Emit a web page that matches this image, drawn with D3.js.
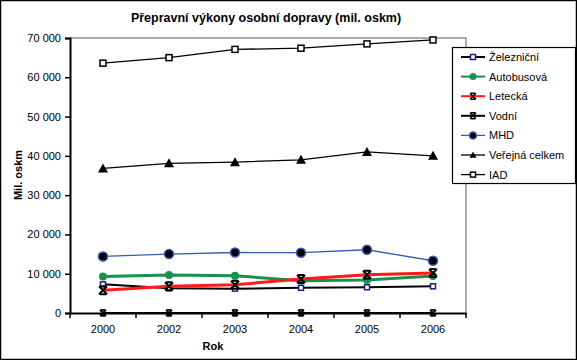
<!DOCTYPE html>
<html><head><meta charset="utf-8">
<script src="https://cdn.jsdelivr.net/npm/d3@7"></script>
<style>
body{margin:0;background:#fff;}
svg{display:block;font-family:"Liberation Sans",Arial,sans-serif;}
</style></head><body>
<svg id="c" width="577" height="360"></svg>
<script>
const years = ["2000","2002","2003","2004","2005","2006"];
const seriesNames = ["Železniční","Autobusová","Letecká","Vodní","MHD","Veřejná celkem","IAD"];
const zeleznicni = [7300,6300,6200,6400,6550,6800];
const autobusova = [9300,9650,9500,8200,8400,9400];
const letecka = [5800,6800,7200,8650,9750,10200];
const vodni = [30,20,20,20,20,20];
const mhd = [14400,15000,15400,15350,16100,13300];
const verejna = [36800,38100,38400,39000,41000,40000];
const iad = [63600,65000,67100,67400,68500,69500];
const yTicks = [0,10000,20000,30000,40000,50000,60000,70000];

const styles = [
  {color:"#000000", width:2, marker:"square", mstroke:"#1c1c8c", mfill:"#fff", msize:5},
  {color:"#16924a", width:3, marker:"circle", mstroke:"#16924a", mfill:"#16924a", msize:4},
  {color:"#ff1a1a", width:3, marker:"x", mstroke:"#000", msize:4},
  {color:"#000000", width:2, marker:"x", mstroke:"#000", msize:3},
  {color:"#3a5ab8", width:1.3, marker:"dotcircle", mstroke:"#3a5ab8", mfill:"#000", msize:4.5},
  {color:"#000000", width:1.3, marker:"triangle", mstroke:"#000", mfill:"#000", msize:5},
  {color:"#000000", width:1.3, marker:"square", mstroke:"#000", mfill:"#fff", msize:6}
];
const data = [zeleznicni,autobusova,letecka,vodni,mhd,verejna,iad];

const svg = d3.select("#c");
svg.append("rect").attr("x",0.5).attr("y",0.5).attr("width",576).attr("height",359)
  .attr("fill","#fff").attr("stroke","#000").attr("stroke-width",1.5);

const L=70,R=466,T=38,B=313;
const x = d3.scaleBand().domain(years).range([L,R]);
const y = d3.scaleLinear().domain([0,70000]).range([B,T]);

svg.append("path").attr("d",`M${L},${T}H${R}V${B+3}`).attr("fill","none")
  .attr("stroke","#909090").attr("stroke-width",1.5);

const fmt = v => d3.format(",")(v).replace(/,/g," ");
const ya = svg.append("g").attr("transform",`translate(${L},0)`)
  .call(d3.axisLeft(y).tickValues(yTicks).tickFormat(fmt).tickSize(5).tickPadding(4));
ya.select(".domain").attr("stroke","#000").attr("stroke-width",2);
ya.selectAll(".tick line").attr("stroke","#000").attr("stroke-width",1.5);
ya.selectAll("text").attr("font-size",11).attr("fill","#000").attr("font-family","Liberation Sans, Arial");

const xa = svg.append("g").attr("transform",`translate(0,${B})`)
  .call(d3.axisBottom(x).tickSize(0).tickPadding(12));
xa.select(".domain").attr("stroke","#000").attr("stroke-width",2);
xa.selectAll("text").attr("font-size",11).attr("fill","#000").attr("font-family","Liberation Sans, Arial");
const bounds = years.map(d=>x(d)).concat([x(years[years.length-1])+x.bandwidth()]);
svg.append("g").selectAll("line").data(bounds).join("line")
  .attr("x1",d=>d).attr("x2",d=>d).attr("y1",B).attr("y2",B+5)
  .attr("stroke","#000").attr("stroke-width",1.5);

function drawMarker(g, st, cx, cy){
  const s=st.msize;
  if(st.marker==="square"){
    g.append("rect").attr("x",cx-s/2).attr("y",cy-s/2).attr("width",s).attr("height",s)
      .attr("fill",st.mfill).attr("stroke",st.mstroke).attr("stroke-width",1.5);
  } else if(st.marker==="circle"){
    g.append("circle").attr("cx",cx).attr("cy",cy).attr("r",s).attr("fill",st.mfill);
  } else if(st.marker==="dotcircle"){
    g.append("circle").attr("cx",cx).attr("cy",cy).attr("r",s).attr("fill",st.mfill)
      .attr("stroke",st.mstroke).attr("stroke-width",1.5);
  } else if(st.marker==="triangle"){
    g.append("path").attr("d",`M${cx},${cy-s}L${cx+s},${cy+s*0.8}L${cx-s},${cy+s*0.8}Z`).attr("fill",st.mfill);
  } else if(st.marker==="x"){
    g.append("path").attr("d",`M${cx-s},${cy-s}L${cx+s},${cy+s}M${cx+s},${cy-s}L${cx-s},${cy+s}M${cx-s*0.8},${cy-s}H${cx+s*0.8}M${cx-s*0.8},${cy+s}H${cx+s*0.8}`)
      .attr("stroke",st.mstroke).attr("stroke-width",s>3?2:1.6).attr("fill","none");
  }
}

const line = d3.line().x((d,i)=>x(years[i])+x.bandwidth()/2).y(d=>y(d));
data.forEach((vals,k)=>{
  const st=styles[k];
  const g=svg.append("g");
  g.append("path").attr("d",line(vals)).attr("fill","none").attr("stroke",st.color).attr("stroke-width",st.width);
  vals.forEach((v,i)=>drawMarker(g,st,x(years[i])+x.bandwidth()/2,y(v)));
});

svg.append("text").attr("x",266).attr("y",22).attr("text-anchor","middle")
  .attr("font-size",12.5).attr("font-weight","bold").text("Přepravní výkony osobní dopravy (mil. oskm)");
svg.append("text").attr("transform","translate(22,175) rotate(-90)").attr("text-anchor","middle")
  .attr("font-size",11).attr("font-weight","bold").text("Mil. oskm");
svg.append("text").attr("x",213).attr("y",350).attr("text-anchor","middle")
  .attr("font-size",11).attr("font-weight","bold").text("Rok");

const lg = svg.append("g");
lg.append("rect").attr("x",452.5).attr("y",47.5).attr("width",123).attr("height",136)
  .attr("fill","#fff").attr("stroke","#000").attr("stroke-width",1.2);
seriesNames.forEach((n,k)=>{
  const st=styles[k];
  const cy=57+k*19.6;
  lg.append("line").attr("x1",461).attr("x2",485).attr("y1",cy).attr("y2",cy)
    .attr("stroke",st.color).attr("stroke-width",Math.min(st.width,2));
  drawMarker(lg,{...st,msize:st.marker==="x"?3:(st.marker==="square"?5:3.5)},473,cy);
  lg.append("text").attr("x",489).attr("y",cy+4).attr("font-size",11).text(n);
});
</script></body></html>
